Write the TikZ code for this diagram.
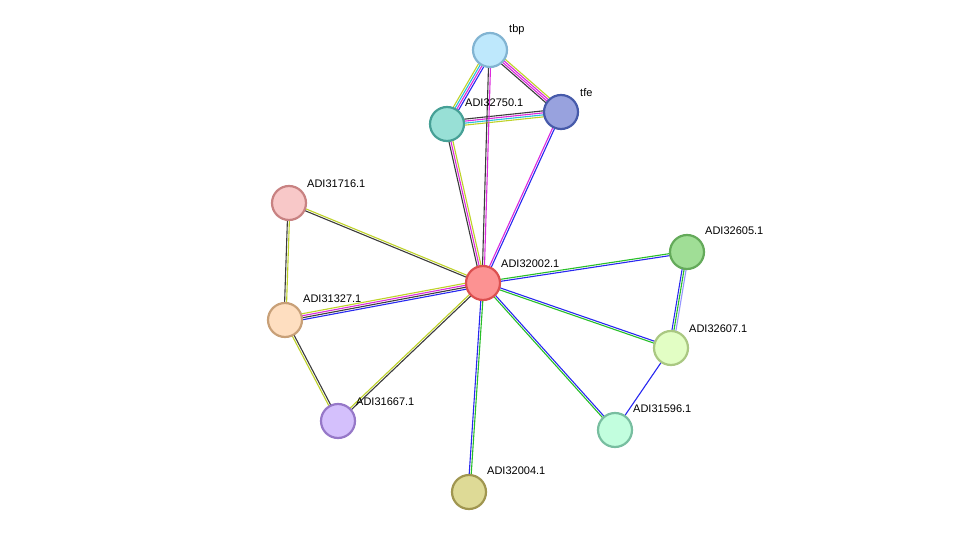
\documentclass[tikz,border=0pt]{standalone}
\usepackage{fontspec}
\setmainfont{Liberation Sans}
\usetikzlibrary{calc}
\definecolor{sblack}{RGB}{60,60,60}
\definecolor{smag}{RGB}{220,40,220}
\definecolor{syel}{RGB}{190,210,40}
\definecolor{scyan}{RGB}{40,190,220}
\definecolor{sblue}{RGB}{40,40,240}
\definecolor{sgreen}{RGB}{40,190,40}
\definecolor{slblue}{RGB}{150,150,255}
% protein colours (border, fill)
\definecolor{dtbp}{RGB}{130,180,210}\definecolor{ftbp}{RGB}{190,232,252}
\definecolor{dtfe}{RGB}{70,90,170}\definecolor{ftfe}{RGB}{152,162,222}
\definecolor{dtw}{RGB}{70,160,150}\definecolor{ftw}{RGB}{152,224,214}
\definecolor{dpk}{RGB}{200,130,130}\definecolor{fpk}{RGB}{248,200,200}
\definecolor{drd}{RGB}{220,80,80}\definecolor{frd}{RGB}{252,146,146}
\definecolor{dgr}{RGB}{100,170,90}\definecolor{fgr}{RGB}{160,222,150}
\definecolor{dor}{RGB}{200,160,120}\definecolor{forr}{RGB}{254,222,192}
\definecolor{dlg}{RGB}{170,200,130}\definecolor{flg}{RGB}{226,254,196}
\definecolor{dvi}{RGB}{150,120,200}\definecolor{fvi}{RGB}{212,192,252}
\definecolor{dmi}{RGB}{120,190,160}\definecolor{fmi}{RGB}{194,254,222}
\definecolor{dol}{RGB}{160,150,80}\definecolor{fol}{RGB}{222,218,150}
% draw one link as parallel coloured lines
\newcommand{\stlink}[3]{%
  \foreach \c [count=\i] in {#3} {\global\let\nlines\i}%
  \foreach \c [count=\i] in {#3} {%
    \pgfmathsetmacro{\o}{(\i-(\nlines+1)/2)*2.0}%
    \draw[\c, line width=1.1pt] ($(#1)!\o pt!90:(#2)$) -- ($(#2)!\o pt!-90:(#1)$);
  }}
\tikzset{
  prot/.style 2 args={circle, draw=#1, fill=#2, line width=2.2pt, minimum size=34pt, inner sep=0pt},
  lbl/.style={font=\fontsize{11}{13}\selectfont, anchor=south west, inner sep=1pt}
}
\begin{document}
\begin{tikzpicture}[x=1pt,y=-1pt]
    \useasboundingbox (0,0) rectangle (976,537);
    % positions
    \coordinate (tbp) at (490,50);
    \coordinate (tfe) at (561,112);
    \coordinate (a2750) at (447,124);
    \coordinate (a1716) at (289,203);
    \coordinate (a2002) at (483,283);
    \coordinate (a2605) at (687,252);
    \coordinate (a1327) at (285,320);
    \coordinate (a2607) at (671,348);
    \coordinate (a1667) at (338,421);
    \coordinate (a1596) at (615,430);
    \coordinate (a2004) at (469,492);

    % links
    \stlink{tbp}{a2750}{syel,scyan,smag,sblue}
    \stlink{tbp}{tfe}{sblack,smag,smag,syel}
    \stlink{a2750}{tfe}{syel,scyan,smag,sblack}
    \stlink{tbp}{a2002}{sblack,smag}
    \stlink{a2750}{a2002}{sblack,smag,syel}
    \stlink{tfe}{a2002}{smag,sblue}
    \stlink{a1716}{a2002}{sblack,syel}
    \stlink{a1716}{a1327}{sblack,syel}
    \stlink{a1327}{a2002}{sblue,sblack,smag,syel}
    \stlink{a1327}{a1667}{syel,sblack}
    \stlink{a1667}{a2002}{sblack,syel}
    \stlink{a2002}{a2004}{sblue,sgreen}
    \stlink{a2002}{a1596}{sgreen,sblue}
    \stlink{a2002}{a2607}{sgreen,sblue}
    \stlink{a2002}{a2605}{sblue,sgreen}
    \stlink{a2605}{a2607}{sblue,sgreen,slblue}
    \stlink{a2607}{a1596}{sblue}

    % proteins
    \node[prot={dtbp}{ftbp}] (ntbp) at (tbp) {};
    \node[prot={dtfe}{ftfe}] (ntfe) at (tfe) {};
    \node[prot={dtw}{ftw}] (n2750) at (a2750) {};
    \node[prot={dpk}{fpk}] (n1716) at (a1716) {};
    \node[prot={drd}{frd}] (n2002) at (a2002) {};
    \node[prot={dgr}{fgr}] (n2605) at (a2605) {};
    \node[prot={dor}{forr}] (n1327) at (a1327) {};
    \node[prot={dlg}{flg}] (n2607) at (a2607) {};
    \node[prot={dvi}{fvi}] (n1667) at (a1667) {};
    \node[prot={dmi}{fmi}] (n1596) at (a1596) {};
    \node[prot={dol}{fol}] (n2004) at (a2004) {};

    % labels
    \node[lbl] at ($(tbp)+(18,-14)$) {tbp};
    \node[lbl] at ($(tfe)+(18,-14)$) {tfe};
    \node[lbl] at ($(a2750)+(17,-16)$) {ADI32750.1};
    \node[lbl] at ($(a1716)+(17,-14)$) {ADI31716.1};
    \node[lbl] at ($(a2002)+(17,-14)$) {ADI32002.1};
    \node[lbl] at ($(a2605)+(17,-16)$) {ADI32605.1};
    \node[lbl] at ($(a1327)+(17,-16)$) {ADI31327.1};
    \node[lbl] at ($(a2607)+(17,-14)$) {ADI32607.1};
    \node[lbl] at ($(a1667)+(17,-14)$) {ADI31667.1};
    \node[lbl] at ($(a1596)+(17,-16)$) {ADI31596.1};
    \node[lbl] at ($(a2004)+(17,-16)$) {ADI32004.1};
\end{tikzpicture}
\end{document}
